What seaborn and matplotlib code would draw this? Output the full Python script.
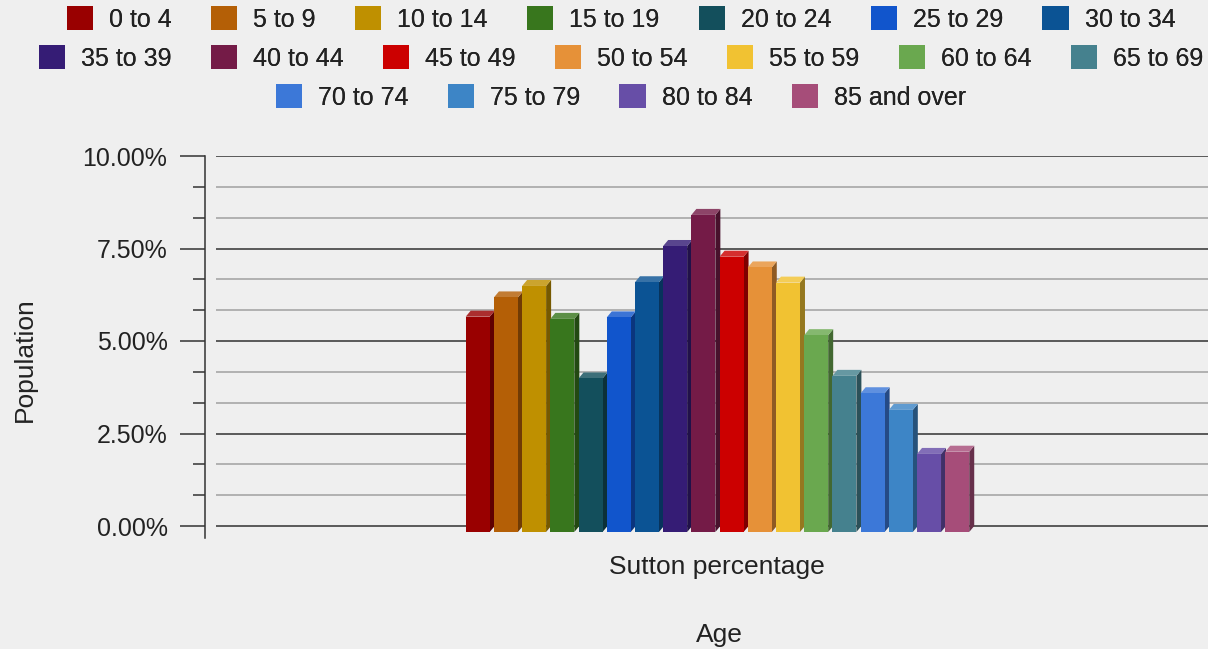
import matplotlib
matplotlib.use("Agg")
import matplotlib.pyplot as plt
import matplotlib.colors as mcolors
from matplotlib.patches import Patch, Polygon
from matplotlib.transforms import ScaledTranslation, IdentityTransform
import numpy as np
import pandas as pd
import seaborn as sns

# Age bands and their share of Sutton's population (%)
ages = ["0 to 4", "5 to 9", "10 to 14", "15 to 19", "20 to 24", "25 to 29",
        "30 to 34", "35 to 39", "40 to 44", "45 to 49", "50 to 54", "55 to 59",
        "60 to 64", "65 to 69", "70 to 74", "75 to 79", "80 to 84", "85 and over"]
values = [5.82, 6.34, 6.65, 5.76, 4.15, 5.80, 6.75, 7.73, 8.57,
          7.44, 7.15, 6.74, 5.32, 4.22, 3.75, 3.30, 2.11, 2.17]
colors = ["#990000", "#b45f06", "#bf9000", "#38761d", "#134f5c", "#1155cc",
          "#0b5394", "#351c75", "#741b47", "#cc0000", "#e69138", "#f1c232",
          "#6aa84f", "#45818e", "#3c78d8", "#3d85c6", "#674ea7", "#a64d79"]
series_name = "Sutton percentage"
major_ticks = [0, 2.5, 5, 7.5, 10]
major_labels = ["0.00%", "2.50%", "5.00%", "7.50%", "10.00%"]

BG = "#efefef"
W, H, DPI = 1208, 649, 100

sns.set_style("white")
plt.rcParams["font.family"] = ["Liberation Sans", "DejaVu Sans"]
plt.rcParams["text.color"] = "#222222"

fig = plt.figure(figsize=(W / DPI, H / DPI), dpi=DPI, facecolor=BG)
ax = fig.add_axes([216 / W, 1 - 538 / H, 992 / W, 382 / H])
ax.set_facecolor(BG)

df = pd.DataFrame({"series": series_name, "age": ages, "value": values})
sns.barplot(data=df, x="series", y="value", hue="age", hue_order=ages,
            palette=colors, width=0.8, gap=0.15, saturation=1,
            legend=False, ax=ax, linewidth=0, edgecolor="none")

ax.set_xlim(-0.798, 0.765)
ax.set_ylim(-12 / 37, 10)

# y axis: major + minor ticks, percent labels
minor_ticks = [10 / 12 * k for k in range(1, 12) if k % 3 != 0]
ax.set_yticks(major_ticks, major_labels)
ax.set_yticks(minor_ticks, minor=True)
ax.tick_params(axis="y", which="major", length=18, width=1.1, color="#333333",
               pad=9, labelsize=18, labelcolor="#222222", left=True)
ax.tick_params(axis="y", which="minor", length=8.6, width=1.1, color="#333333",
               left=True)
ax.tick_params(axis="x", length=0, pad=12, labelsize=19, labelcolor="#222222")
ax.set_axisbelow(True)
ax.yaxis.grid(True, which="major", color="#404040", lw=1.2)
ax.yaxis.grid(True, which="minor", color="#a6a6a6", lw=1.2)
ax.xaxis.grid(False)
for s in ("top", "right", "bottom"):
    ax.spines[s].set_visible(False)
ax.spines["left"].set_position(("outward", 11 * 72 / DPI))
ax.spines["left"].set_color("#333333")
ax.spines["left"].set_linewidth(1.1)

# 3D look: front face shifted down-left, with a darker side and a lighter top
dx, dy = 5, 6
shift = ScaledTranslation(-dx / DPI, -dy / DPI, fig.dpi_scale_trans)
bars = [p for p in ax.patches if p.get_height() > 0]
bars.sort(key=lambda p: p.get_x())
for i, bar in enumerate(bars):
    base = np.array(mcolors.to_rgb(bar.get_facecolor()))
    side = base * 0.62
    top = base + (1 - base) * 0.18
    x0, w, h = bar.get_x(), bar.get_width(), bar.get_height()
    (X0, Y0), (X1, Y1) = ax.transData.transform([(x0, 0), (x0 + w, h)])
    z = 2 + i * 0.01
    side_poly = Polygon([(X1 - dx, Y0 - dy), (X1, Y0), (X1, Y1), (X1 - dx, Y1 - dy)],
                        closed=True, facecolor=side, edgecolor="none",
                        transform=IdentityTransform(), clip_on=False, zorder=z)
    top_poly = Polygon([(X0 - dx, Y1 - dy), (X1 - dx, Y1 - dy), (X1, Y1), (X0, Y1)],
                       closed=True, facecolor=top, edgecolor="none",
                       transform=IdentityTransform(), clip_on=False, zorder=z)
    ax.add_artist(side_poly)
    ax.add_artist(top_poly)
    bar.set_transform(ax.transData + shift)
    bar.set_clip_on(False)
    bar.set_zorder(z + 0.005)

for lab in ax.get_xticklabels():
    lab.set_transform(lab.get_transform() +
                      ScaledTranslation(-6 / DPI, 0, fig.dpi_scale_trans))

ax.set_xlabel("Age", fontsize=19, color="#222222")
ax.xaxis.set_label_coords((719 - 216) / 992, -(623 - 538) / 382)
ax.set_ylabel("Population", fontsize=19, color="#222222")
ax.yaxis.set_label_coords((37 - 216) / 992, (538 - 360) / 382)

# legend in three centred rows
handles = [Patch(facecolor=c, edgecolor="none") for c in colors]
rows = [(0, 7, 19), (7, 14, 58), (14, 18, 97)]
for a, b, yc in rows:
    leg = fig.legend(handles[a:b], ages[a:b], loc="center",
                     bbox_to_anchor=(621 / W, 1 - yc / H), ncol=b - a,
                     frameon=False, fontsize=18, handlelength=1.05,
                     handleheight=1.05, handletextpad=0.65, columnspacing=1.56,
                     borderpad=0, borderaxespad=0)
    fig.add_artist(leg)

fig.savefig("out.png", dpi=DPI, facecolor=BG)
